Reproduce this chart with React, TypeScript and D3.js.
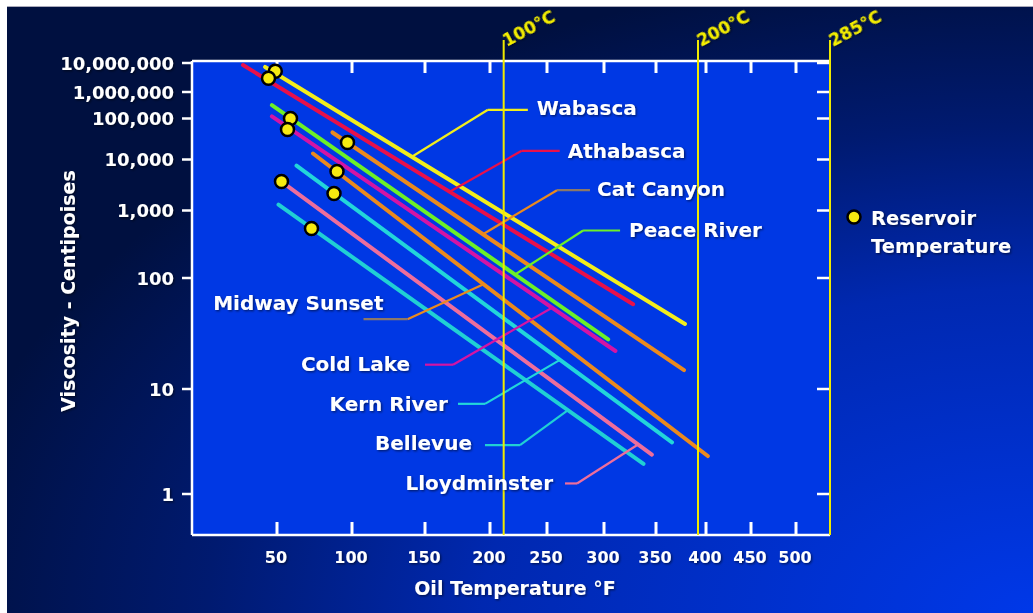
import React from "react";
import * as d3 from "d3";

// oil names, in the order the callouts run from top to bottom
const seriesNames = [
  "Wabasca", "Athabasca", "Cat Canyon", "Peace River", "Cold Lake",
  "Midway Sunset", "Kern River", "Lloydminster", "Bellevue",
];
// each curve is a straight line between two readings (°F, centipoises)
const startTemp = [43, 30, 87, 47, 47, 74, 63, 53, 51];
const startVisc = [7.3e6, 8.5e6, 45600, 3.2e5, 1.2e5, 14000, 7600, 3700, 1300];
const endTemp = [379, 328, 378, 304, 311, 402, 366, 346, 338];
const endVisc = [38.5, 58, 14.8, 28, 22, 2.3, 3.1, 2.37, 1.94];
// reservoir temperature markers
const reservoirTemp = [49, 45, 97, 59, 57, 90, 88, 53, 73];
const reservoirVisc = [5.2e6, 3.0e6, 2.6e4, 1.0e5, 5.4e4, 5800, 2150, 3700, 540];

const tempTicks = [50, 100, 150, 200, 250, 300, 350, 400, 450, 500];
const viscTicks = [1, 10, 100, 1000, 10000, 100000, 1000000, 10000000];
const viscTickLabels = ["1", "10", "100", "1,000", "10,000", "100,000", "1,000,000", "10,000,000"];
const celsiusLabels = ["100°C", "200°C", "285°C"];
const celsiusInF = [212, 392, 545];

const seriesColors = [
  "#f2ee1c", "#e8104a", "#ea8a1e", "#6cf028", "#d414a4",
  "#ea8a1e", "#22d6da", "#ee6e9c", "#20d0d4",
];

// callout layout: where the leader meets the curve (°F), then pixel offsets
const callouts = [
  { attachT: 141, dx: 76, dy: -47, arm: 40, lx: 9, ly: 5, anchor: "start" },
  { attachT: 169, dx: 72, dy: -41, arm: 38, lx: 8, ly: 7, anchor: "start" },
  { attachT: 194.6, dx: 74, dy: -44, arm: 33, lx: 7, ly: 6, anchor: "start", armColor: "#8c7868" },
  { attachT: 222, dx: 68, dy: -44, arm: 37, lx: 9, ly: 6, anchor: "start" },
  { attachT: 254.4, dx: -99, dy: 57, arm: -28, lx: -15, ly: 6, anchor: "end" },
  { attachT: 195, dx: -76, dy: 35, arm: -44, lx: 20, ly: -9, anchor: "end", armColor: "#8c7868" },
  { attachT: 261.4, dx: -75, dy: 44, arm: -27, lx: -10, ly: 7, anchor: "end" },
  { attachT: 332.7, dx: -61, dy: 39, arm: -12, lx: -12, ly: 7, anchor: "end" },
  { attachT: 268.4, dx: -48, dy: 35, arm: -35, lx: -13, ly: 5, anchor: "end" },
];

const W = 1033;
const H = 613;
const top = 61;
const bottom = 535;
const font = "'DejaVu Sans', 'Liberation Sans', Arial, sans-serif";

// the printed temperature axis is not uniform, so map it tick by tick
const x = d3
  .scaleLinear()
  .domain([0, 50, 100, 150, 200, 250, 300, 350, 400, 450, 500, 545])
  .range([192, 277, 352, 425, 490, 547, 604, 656, 706, 751, 796, 830]);

// same for the viscosity decades
const yDecade = d3
  .scaleLinear()
  .domain([0, 1, 2, 3, 4, 5, 6, 7])
  .range([494, 389, 278, 210.5, 159.5, 118.5, 92, 63]);
const y = (v: number) => yDecade(Math.log10(v));

const left = x(0);
const right = x(545);

const line = d3
  .line<[number, number]>()
  .x((d) => x(d[0]))
  .y((d) => y(d[1]));

export default function App() {
  const series = seriesNames.map((name, i) => {
    const x0 = x(startTemp[i]);
    const y0 = y(startVisc[i]);
    const x1 = x(endTemp[i]);
    const y1 = y(endVisc[i]);
    const c = callouts[i];
    const ax = x(c.attachT);
    const ay = y0 + ((ax - x0) / (x1 - x0)) * (y1 - y0);
    return { name, i, ax, ay, c };
  });

  return (
    <svg
      width={W}
      height={H}
      style={{ position: "absolute", left: 0, top: 0, display: "block" }}
    >
      <defs>
        <radialGradient
          id="bg"
          gradientUnits="userSpaceOnUse"
          cx={W}
          cy={H}
          r={1100}
          gradientTransform={`translate(${W} ${H}) scale(1 0.59) translate(${-W} ${-H})`}
        >
          <stop offset="0" stopColor="#0038e8" />
          <stop offset="0.5" stopColor="#0028b0" />
          <stop offset="0.75" stopColor="#001a70" />
          <stop offset="1" stopColor="#001040" />
        </radialGradient>
        <filter id="shadow" x="-10%" y="-30%" width="130%" height="160%">
          <feDropShadow dx="1.2" dy="1.2" stdDeviation="0.8" floodColor="#000" floodOpacity="0.55" />
        </filter>
      </defs>

      <rect x={7} y={7} width={W - 7} height={H - 7} fill="url(#bg)" />
      <line x1={7} x2={W} y1={6.5} y2={6.5} stroke="#aab" strokeWidth={1} />

      {/* plot area */}
      <rect x={left} y={top} width={right - left} height={bottom - top} fill="#0038e4" />

      {/* series curves */}
      {seriesNames.map((name, i) => (
        <path
          key={name}
          d={line([
            [startTemp[i], startVisc[i]],
            [endTemp[i], endVisc[i]],
          ]) as string}
          stroke={seriesColors[i]}
          strokeWidth={4}
          strokeLinecap="round"
          fill="none"
        />
      ))}

      {/* leader lines */}
      {series.map(({ name, i, ax, ay, c }) => {
        const ex = ax + c.dx;
        const ey = ay + c.dy;
        return (
          <g key={name + "-lead"} fill="none" strokeWidth={2.2}>
            <line x1={ax} y1={ay} x2={ex} y2={ey} stroke={seriesColors[i]} />
            <line x1={ex} y1={ey} x2={ex + c.arm} y2={ey} stroke={c.armColor || seriesColors[i]} />
          </g>
        );
      })}

      {/* frame */}
      <g stroke="#fff" strokeWidth={2.5}>
        <line x1={left} x2={right} y1={top} y2={top} />
        <line x1={left} x2={right} y1={bottom} y2={bottom} />
        <line x1={left} x2={left} y1={top} y2={bottom} />
      </g>

      {/* x ticks, inside on top and bottom */}
      <g stroke="#fff" strokeWidth={3}>
        {tempTicks.map((t) => (
          <g key={t}>
            <line x1={x(t)} x2={x(t)} y1={top} y2={top + 12} />
            <line x1={x(t)} x2={x(t)} y1={bottom} y2={bottom - 13} />
          </g>
        ))}
      </g>
      {/* y ticks, outside left and inside right */}
      <g stroke="#fff" strokeWidth={2.5}>
        {viscTicks.map((v) => (
          <g key={v}>
            <line x1={left - 10} x2={left} y1={y(v)} y2={y(v)} />
            <line x1={right - 13} x2={right} y1={y(v)} y2={y(v)} />
          </g>
        ))}
      </g>

      {/* celsius reference lines */}
      {celsiusInF.map((f, i) => (
        <g key={f}>
          <line x1={x(f)} x2={x(f)} y1={40} y2={bottom} stroke="#f0ea00" strokeWidth={2} />
          <text
            transform={`translate(${x(f) + 3},${47}) rotate(-28)`}
            fill="#f4ee00"
            fontFamily={font}
            fontWeight="bold"
            fontSize={17}
            filter="url(#shadow)"
          >
            {celsiusLabels[i]}
          </text>
        </g>
      ))}

      <g fill="#fff" fontFamily={font} fontWeight="bold" filter="url(#shadow)">
        {/* tick labels */}
        {viscTicks.map((v, i) => (
          <text key={v} x={174} y={y(v) + 6.5} fontSize={18} textAnchor="end">
            {viscTickLabels[i]}
          </text>
        ))}
        {tempTicks.map((t) => (
          <text key={t} x={x(t) - 1} y={563} fontSize={16} textAnchor="middle">
            {t}
          </text>
        ))}

        {/* axis titles */}
        <text x={515} y={595} fontSize={19} textAnchor="middle">
          Oil Temperature °F
        </text>
        <text
          transform={`translate(${75},${291}) rotate(-90)`}
          fontSize={19}
          textAnchor="middle"
        >
          Viscosity - Centipoises
        </text>

        {/* series labels */}
        {series.map(({ name, ax, ay, c }) => (
          <text
            key={name + "-label"}
            x={ax + c.dx + c.arm + c.lx}
            y={ay + c.dy + c.ly}
            fontSize={20}
            textAnchor={c.anchor as "start" | "end"}
          >
            {name}
          </text>
        ))}

        {/* legend */}
        <text x={871} y={225} fontSize={19.5}>Reservoir</text>
        <text x={871} y={253} fontSize={19.5}>Temperature</text>
      </g>

      {/* reservoir markers */}
      {reservoirTemp.map((t, i) => (
        <circle
          key={seriesNames[i] + "-dot"}
          cx={x(t)}
          cy={y(reservoirVisc[i])}
          r={6.5}
          fill="#f6ea10"
          stroke="#000"
          strokeWidth={2.5}
        />
      ))}
      <circle cx={854} cy={217} r={6.5} fill="#f6ea10" stroke="#000" strokeWidth={2.5} />
    </svg>
  );
}
